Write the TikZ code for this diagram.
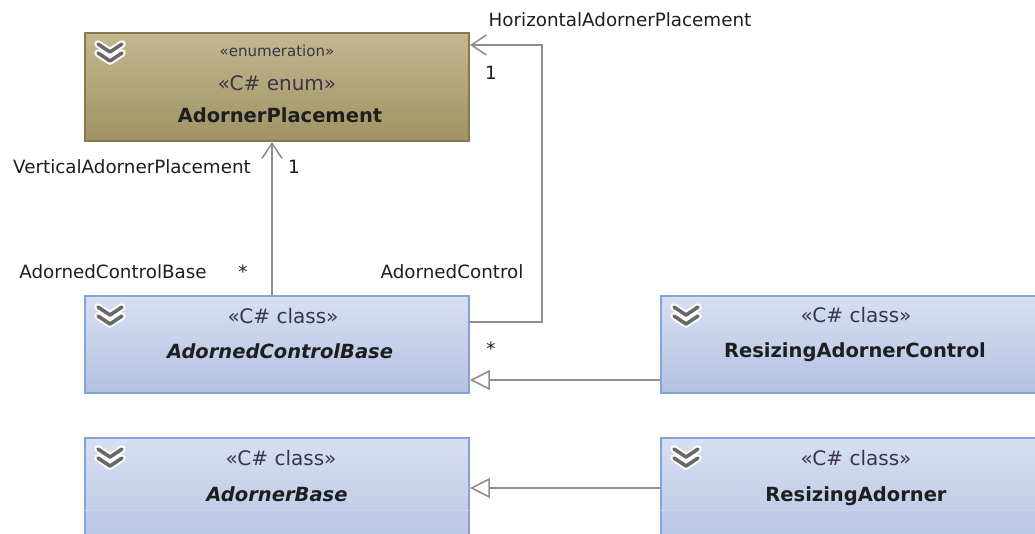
\documentclass[tikz,border=0pt]{standalone}
\usepackage{fontspec}
\setmainfont{DejaVu Sans}
\usetikzlibrary{arrows.meta,calc}

\definecolor{enumtop}{HTML}{C2B78F}
\definecolor{enumbot}{HTML}{A09363}
\definecolor{enumedge}{HTML}{857A4E}
\definecolor{clstop}{HTML}{D7DFF2}
\definecolor{clsbot}{HTML}{B3C1E1}
\definecolor{clsedge}{HTML}{86A3D8}
\definecolor{clsrule}{HTML}{C9D3EB}
\definecolor{wire}{HTML}{8E8E8E}
\definecolor{ink}{HTML}{1E1E1E}
\definecolor{stereo}{HTML}{3A3646}
\definecolor{chev}{HTML}{686868}

\tikzset{
  enumbox/.style={draw=enumedge, line width=1.9pt, top color=enumtop, bottom color=enumbot,
    anchor=north west, minimum width=384pt, minimum height=108pt, inner sep=0pt},
  clsbox/.style={draw=clsedge, line width=1.9pt, top color=clstop, bottom color=clsbot,
    anchor=north west, minimum width=384pt, minimum height=97pt, inner sep=0pt},
  lbl/.style={anchor=base, inner sep=0pt, text=ink, font=\fontsize{18.3}{20}\selectfont},
  stereotype/.style={anchor=base, inner sep=0pt, text=stereo, font=\fontsize{20}{22}\selectfont},
  smallstereo/.style={anchor=base, inner sep=0pt, text=stereo, font=\fontsize{15}{17}\selectfont},
  clsname/.style={anchor=base, inner sep=0pt, text=ink, font=\fontsize{19.5}{22}\selectfont\bfseries},
  absname/.style={clsname, font=\fontsize{19.5}{22}\selectfont\bfseries\itshape},
  assoc/.style={draw=wire, line width=1.9pt,
    -{Straight Barb[length=15pt, width=20pt, line width=1.6pt]}},
  inherit/.style={draw=wire, line width=1.9pt,
    -{Triangle[open, length=20pt, width=20pt, line width=1.6pt, fill=white]}},
}

% collapse chevron drawn at the top-left corner of each box
\newcommand{\chevronicon}[1]{%
  \begin{scope}[shift={(#1)}]
    \draw[white, line width=7.5pt, line cap=round, line join=round]
      (14,12) -- (26,20) -- (38,12) (14,21) -- (26,29) -- (38,21);
    \draw[chev, line width=3.6pt, line cap=round, line join=round]
      (14,12) -- (26,20) -- (38,12) (14,21) -- (26,29) -- (38,21);
  \end{scope}}

\begin{document}
\begin{tikzpicture}[x=1pt, y=-1pt]
\useasboundingbox (0,0) rectangle (1035,533);
\clip (0,0) rectangle (1035,533);

% boxes
\node[enumbox] (enum) at (84,32) {};
\node[clsbox] (acb) at (84,295) {};
\node[clsbox, minimum width=392pt] (rac) at (660,295) {};
\node[clsbox, minimum height=120pt] (ab) at (84,437) {};
\node[clsbox, minimum width=392pt, minimum height=120pt] (ra) at (660,437) {};

% compartment rules of the expanded classes
\draw[clsrule, line width=1pt] ([yshift=-73pt,xshift=1pt]ab.north west) -- ([yshift=-73pt,xshift=-1pt]ab.north east);
\draw[clsrule, line width=1pt] ([yshift=-73pt,xshift=1pt]ra.north west) -- ([yshift=-73pt]ra.north east);

\chevronicon{84,32}
\chevronicon{84,295}
\chevronicon{660,295}
\chevronicon{84,437}
\chevronicon{660,437}

% enumeration
\node[smallstereo] (enumst1) at (277,56) {«enumeration»};
\node[stereotype] (enumst2) at (277,90) {«C\# enum»};
\node[clsname] (enumname) at (280,122) {AdornerPlacement};

% classes
\node[stereotype] (acbst) at (283,323) {«C\# class»};
\node[absname] (acbname) at (280,358) {AdornedControlBase};
\node[stereotype] (racst) at (856,322) {«C\# class»};
\node[clsname] (racname) at (855,357) {ResizingAdornerControl};
\node[stereotype] (abst) at (281,465) {«C\# class»};
\node[absname] (abname) at (277,501) {AdornerBase};
\node[stereotype] (rast) at (856,465) {«C\# class»};
\node[clsname] (raname) at (856,501) {ResizingAdorner};

% associations
\draw[assoc] ([xshift=188pt]acb.north west) -- ([xshift=188pt]enum.south west);
\draw[assoc] ([yshift=-27pt]acb.north east) -- ++(72,0) |- ([yshift=-13pt]enum.north east);

% generalisations
\draw[inherit] ([yshift=-85pt]rac.north west) -- ([yshift=-85pt]acb.north east);
\draw[inherit] ([yshift=-51pt]ra.north west) -- ([yshift=-51pt]ab.north east);

% association end labels
\node[lbl] (hlabel) at (620,26) {HorizontalAdornerPlacement};
\node[lbl] (hmult) at (491,79) {1};
\node[lbl] (vlabel) at (132,173) {VerticalAdornerPlacement};
\node[lbl] (vmult) at (294,173) {1};
\node[lbl] (acblabel) at (113,278) {AdornedControlBase};
\node[lbl] (acbmult) at (243,278) {*};
\node[lbl] (aclabel) at (452,278) {AdornedControl};
\node[lbl] (acmult) at (491,355) {*};
\end{tikzpicture}
\end{document}
